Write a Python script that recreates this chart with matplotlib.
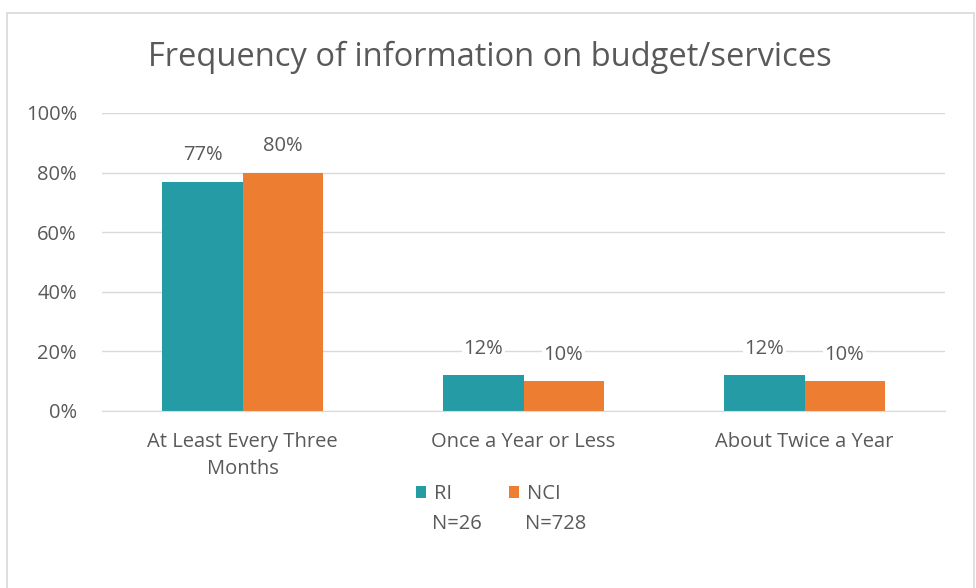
import numpy as np
import matplotlib.pyplot as plt
from matplotlib.patches import Rectangle

# data
categories = ["At Least Every Three\nMonths", "Once a Year or Less", "About Twice a Year"]
ri_values = [77, 12, 12]
nci_values = [80, 10, 10]
series_names = ["RI", "NCI"]
series_n = ["N=26", "N=728"]

teal = "#259BA6"
orange = "#ED7D31"
text_col = "#595959"
grid_col = "#D9D9D9"
fs = 14.5

plt.rcParams['font.family'] = ['Open Sans', 'DejaVu Sans']

fig = plt.figure(figsize=(9.76, 5.88), dpi=100)
ax = fig.add_axes([102 / 976, 1 - 411 / 588, 843 / 976, 298 / 588])

# outer chart border
fig.patches.append(Rectangle((7 / 976, -0.01), 967 / 976, 1 - 13 / 588 + 0.01,
                             transform=fig.transFigure, fill=False,
                             edgecolor=grid_col, linewidth=1.2))

x = np.arange(len(categories))
w = 0.285
b1 = ax.bar(x - w / 2, ri_values, w, color=teal, label=series_names[0], zorder=2)
b2 = ax.bar(x + w / 2, nci_values, w, color=orange, label=series_names[1], zorder=2)

for bars, vals in [(b1, ri_values), (b2, nci_values)]:
    for bar, v in zip(bars, vals):
        ax.annotate(f"{v}%", (bar.get_x() + bar.get_width() / 2, v),
                    xytext=(0, 19), textcoords="offset points",
                    ha="center", va="center", fontsize=fs, color=text_col,
                    bbox=dict(boxstyle="square,pad=0.1", fc="white", ec="none"),
                    zorder=3)

ax.set_xlim(-0.5, 2.5)
ax.set_ylim(0, 100)
ax.set_yticks(range(0, 101, 20))
ax.set_yticklabels([f"{t}%" for t in range(0, 101, 20)])
ax.set_xticks(x)
ax.set_xticklabels(categories, linespacing=1.45)
ax.tick_params(axis="both", length=0, labelsize=fs, colors=text_col)
ax.tick_params(axis="y", pad=18)
ax.tick_params(axis="x", pad=15)
ax.grid(axis="y", color=grid_col, linewidth=1, zorder=0)
for s in ["top", "right", "left"]:
    ax.spines[s].set_visible(False)
ax.spines["bottom"].set_color(grid_col)

fig.text(490 / 976, 1 - 57 / 588, "Frequency of information on budget/services",
         ha="center", va="center", fontsize=23.5, color=text_col)

leg = fig.legend(loc="center left", bbox_to_anchor=(398 / 976, 1 - 494 / 588), ncol=2,
                 frameon=False, fontsize=fs, handlelength=0.5, handleheight=0.5,
                 handletextpad=0.4, columnspacing=2.8, borderpad=0.4)
for t in leg.get_texts():
    t.set_color(text_col)

fig.text(432 / 976, 1 - 524 / 588, series_n[0], ha="left", va="center",
         fontsize=fs, color=text_col)
fig.text(525 / 976, 1 - 524 / 588, series_n[1], ha="left", va="center",
         fontsize=fs, color=text_col)

fig.savefig("out.png", dpi=100)
